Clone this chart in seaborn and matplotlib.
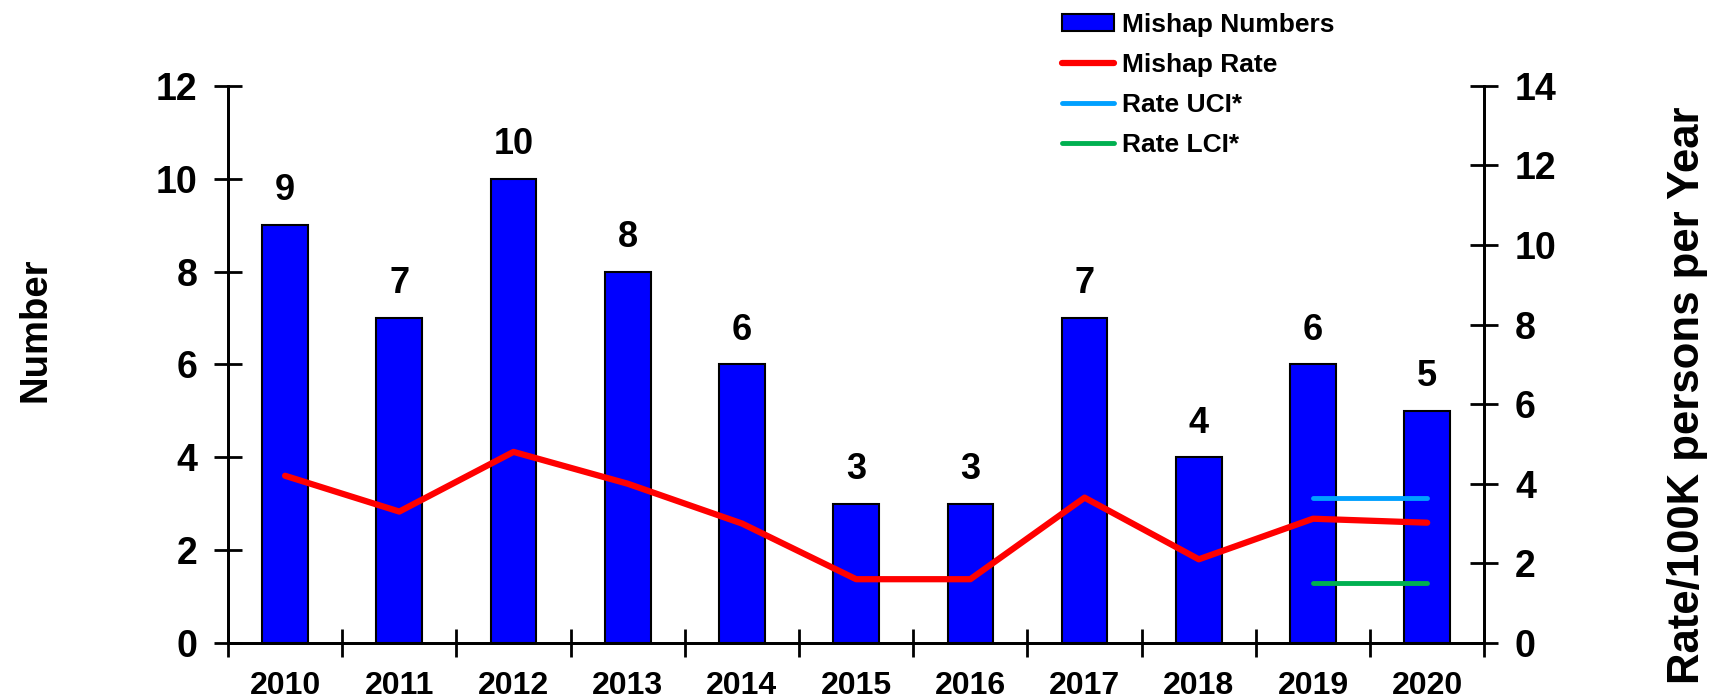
import numpy as np
import pandas as pd
import matplotlib.pyplot as plt
import seaborn as sns
from matplotlib.patches import Patch
from matplotlib.lines import Line2D
from matplotlib.ticker import FixedLocator

# Data
years = ["2010", "2011", "2012", "2013", "2014", "2015", "2016", "2017", "2018", "2019", "2020"]
mishap_numbers = [9, 7, 10, 8, 6, 3, 3, 7, 4, 6, 5]
mishap_rate = [4.2, 3.3, 4.8, 4.0, 3.0, 1.6, 1.6, 3.65, 2.1, 3.12, 3.02]
ci_years = ["2019", "2020"]
rate_uci = [3.63, 3.63]
rate_lci = [1.51, 1.51]

sns.set_theme(style="white")
plt.rcParams["font.family"] = ["Liberation Sans", "DejaVu Sans"]
plt.rcParams["font.weight"] = "bold"
for key in ("text.color", "axes.labelcolor", "xtick.color", "ytick.color"):
    plt.rcParams[key] = "black"

df = pd.DataFrame({"Year": years, "Number": mishap_numbers, "Rate": mishap_rate})
df["pos"] = np.arange(len(years))
ci_df = pd.DataFrame({"pos": [years.index(y) for y in ci_years], "UCI": rate_uci, "LCI": rate_lci})

fig = plt.figure(figsize=(17.14, 6.98), dpi=100)
ax = fig.add_axes([0.133, 0.079, 0.733, 0.798])

sns.barplot(data=df, x="Year", y="Number", ax=ax, color="#0000FF", saturation=1,
            edgecolor="black", linewidth=1.5, width=0.4)
ax.bar_label(ax.containers[0], fontsize=26, fontweight="bold", padding=12)

ax.set_xlim(-0.5, len(years) - 0.5)
ax.set_ylim(0, 12)
ax.set_yticks(range(0, 13, 2))
ax.set_xlabel("")
ax.set_ylabel("Number", fontsize=27.5, fontweight="bold")
ax.yaxis.set_label_coords(-0.1385, 0.562)
ax.tick_params(axis="y", which="major", direction="inout", length=20, width=2,
               labelsize=27, left=True, pad=12)
ax.tick_params(axis="x", which="major", length=0, labelsize=23, pad=20)
ax.xaxis.set_minor_locator(FixedLocator(np.arange(-0.5, len(years), 1.0)))
ax.tick_params(axis="x", which="minor", direction="inout", length=20, width=2, bottom=True)
for lab in ax.get_xticklabels() + ax.get_yticklabels():
    lab.set_fontweight("bold")

ax2 = ax.twinx()
sns.lineplot(data=df, x="pos", y="Rate", ax=ax2, color="#FF0000", linewidth=4.5)
sns.lineplot(data=ci_df, x="pos", y="UCI", ax=ax2, color="#00A0FF", linewidth=3.5)
sns.lineplot(data=ci_df, x="pos", y="LCI", ax=ax2, color="#00B050", linewidth=3.5)
for ln in ax2.lines:
    ln.set_solid_capstyle("round")
ax2.set_ylim(0, 14)
ax2.set_xlim(-0.5, len(years) - 0.5)
ax2.set_yticks(range(0, 15, 2))
ax2.set_ylabel("Rate/100K persons per Year", fontsize=31.5, fontweight="bold")
ax2.yaxis.set_label_coords(1.1457, 0.445)
ax2.set_xlabel("")
ax2.tick_params(axis="y", direction="inout", length=20, width=2, labelsize=27, right=True, pad=12)
for lab in ax2.get_yticklabels():
    lab.set_fontweight("bold")

for a in (ax, ax2):
    a.spines["top"].set_visible(False)
    for s in ("left", "right", "bottom"):
        a.spines[s].set_color("black")
        a.spines[s].set_linewidth(2)
    a.grid(False)

handles = [
    Patch(facecolor="#0000FF", edgecolor="black", linewidth=1.5, label="Mishap Numbers"),
    Line2D([0], [0], color="#FF0000", linewidth=4.5, label="Mishap Rate"),
    Line2D([0], [0], color="#00A0FF", linewidth=3.5, label="Rate UCI*"),
    Line2D([0], [0], color="#00B050", linewidth=3.5, label="Rate LCI*"),
]
fig.legend(handles=handles, loc="upper left", bbox_to_anchor=(0.6196, 0.982), frameon=False,
           handlelength=1.97, handleheight=0.6, handletextpad=0.3, labelspacing=0.61,
           borderpad=0, borderaxespad=0, prop={"weight": "bold", "size": 19})

fig.savefig("out.png", dpi=100)
plt.close(fig)
